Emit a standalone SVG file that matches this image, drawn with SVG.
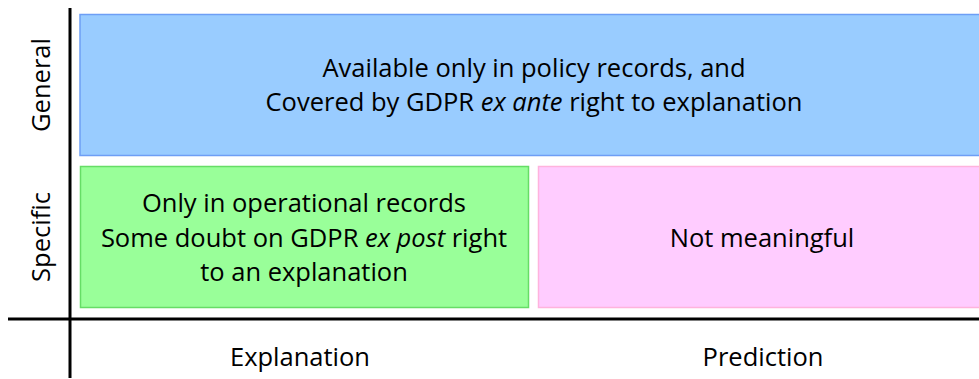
<svg xmlns="http://www.w3.org/2000/svg" width="979" height="379" viewBox="0 0 979 379">
  <style>
    text { font-family: "Open Sans", "Liberation Sans", sans-serif; font-size: 25.5px; fill: #000; text-anchor: middle; }
    .axis { stroke: #000; stroke-width: 3; fill: none; }
  </style>
  <rect width="979" height="379" fill="#fff"/>
  <g id="general">
    <rect x="80" y="14.5" width="905" height="141" fill="#99ccff" stroke="#6e9ef5" stroke-width="1.5"/>
    <text x="534" y="77">Available only in policy records, and</text>
    <text x="534" y="111">Covered by GDPR <tspan font-style="italic">ex ante</tspan> right to explanation</text>
  </g>
  <g id="specific-explanation">
    <rect x="80.5" y="166.5" width="448" height="141" fill="#99ff99" stroke="#66dd66" stroke-width="1.5"/>
    <text x="304" y="212">Only in operational records</text>
    <text x="304" y="247">Some doubt on GDPR <tspan font-style="italic">ex post</tspan> right</text>
    <text x="304" y="281">to an explanation</text>
  </g>
  <g id="specific-prediction">
    <rect x="538.5" y="166.5" width="445" height="141" fill="#ffccff" stroke="#ffb3dd" stroke-width="1.5"/>
    <text x="762" y="247">Not meaningful</text>
  </g>
  <g id="axes">
    <line class="axis" x1="70" y1="8" x2="70" y2="378"/>
    <line class="axis" x1="8" y1="319" x2="979" y2="319"/>
    <text transform="translate(50 85) rotate(-90)">General</text>
    <text transform="translate(50 237) rotate(-90)">Specific</text>
    <text x="300" y="366">Explanation</text>
    <text x="763" y="366">Prediction</text>
  </g>
</svg>
